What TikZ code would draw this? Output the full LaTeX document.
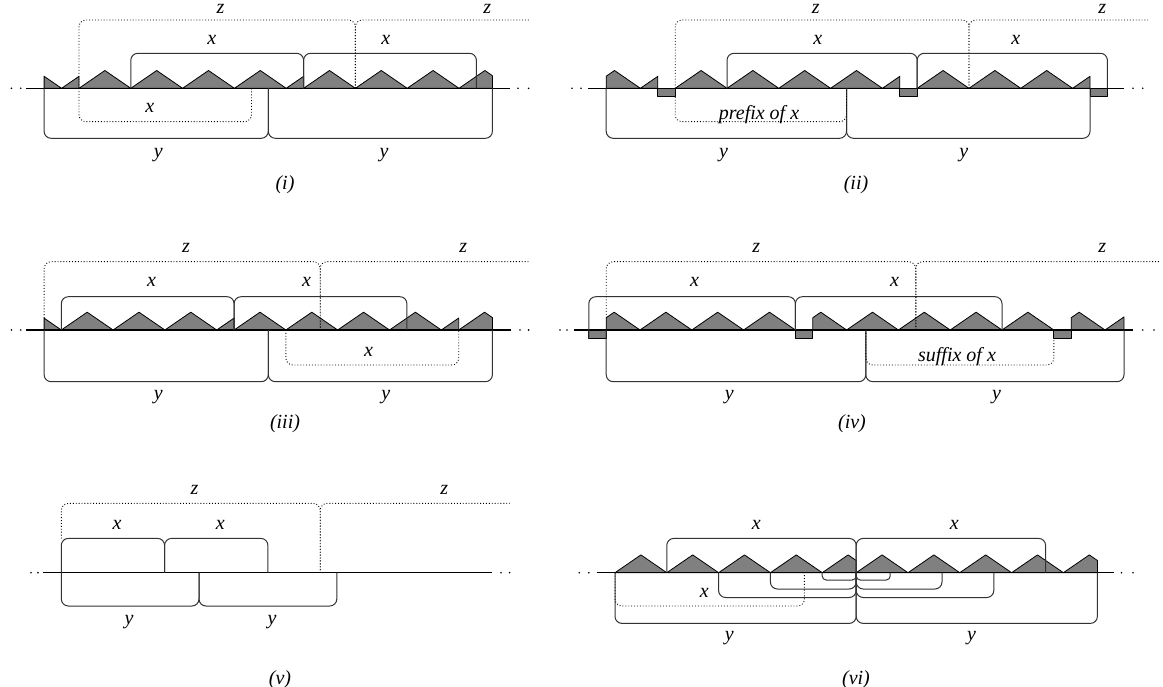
\documentclass[tikz,border=0pt]{standalone}
\usepackage{fontspec}
\setmainfont{Liberation Serif}
\usepackage{tikz}
\newcommand{\sawtooth}[1]{\filldraw[strip] (#1,0) -- ++(25.9,17.8) -- ++(25.9,-17.8) -- cycle;}
\newcommand{\risepart}[2]{\filldraw[strip] (#1,0) -- ++(#2,{0.6873*#2}) -- ++(0,{-0.6873*#2}) -- cycle;}
\newcommand{\axisdots}[1]{\foreach \d in {#1} {\fill (\d,0) circle (0.9);}}

\begin{document}
\begin{tikzpicture}[x=1pt, y=1pt,
  strip/.style={fill=black!50, draw=black, line width=0.8pt, line join=round},
  brk/.style={draw=black!80, line width=1pt, rounded corners=7pt},
  dbrk/.style={draw=black, line width=0.9pt, dotted, rounded corners=7pt},
  axis/.style={line width=1.2pt},
  lbl/.style={font=\fontsize{20}{24}\selectfont\itshape, inner sep=0pt}]

\useasboundingbox (0,0) rectangle (1163,-687);

%% === Panel (i) ===
\begin{scope}[yshift=-88.3pt]
  % string
  \filldraw[strip] (44.1,0) -- (44.1,12) -- (61.6,0) -- cycle;
  \risepart{61.6}{17.4}
  \foreach \a in {79,130.8,182.6,234.4} {\sawtooth{\a}}
  \risepart{286.2}{17.4}
  \foreach \a in {303.6,355.4,407.2} {\sawtooth{\a}}
  \filldraw[strip] (459,0) -- (484.9,17.8) -- (492.4,12.6) -- (492.4,0) -- cycle;
  % axis
  \draw[axis] (25.8,0) -- (509.6,0);
  \axisdots{11.4,20.7,518,528.6}
  % x on top, y below
  \draw[brk] (130.8,0) -- (130.8,35) -- (303.6,35) -- (303.6,0);
  \draw[brk] (303.6,0) -- (303.6,35) -- (476.4,35) -- (476.4,0);
  \draw[brk] (44.1,0) -- (44.1,-50) -- (268.3,-50) -- (268.3,0);
  \draw[brk] (268.3,0) -- (268.3,-50) -- (492.4,-50) -- (492.4,0);
  % z and inner x
  \draw[dbrk] (79,0) -- (79,68.3) -- (355.4,68.3) -- (355.4,0);
  \draw[dbrk] (355.4,0) -- (355.4,68.3) -- (530,68.3);
  \draw[dbrk] (79,0) -- (79,-33.4) -- (251.5,-33.4) -- (251.5,0);
  % labels
  \node[lbl] (iz1) at (220.4,79.3) {z};
  \node[lbl] (iz2) at (487.3,79.3) {z};
  \node[lbl] (ix1) at (211.8,48.3) {x};
  \node[lbl] (ix2) at (385.7,48.3) {x};
  \node[lbl] (ix3) at (149.8,-19.7) {x};
  \node[lbl] (iy1) at (158.4,-66.7) {y};
  \node[lbl] (iy2) at (384,-66.7) {y};
  \node[lbl] (cap1) at (285,-96.7) {(i)};
\end{scope}

%% === Panel (ii) ===
\begin{scope}[yshift=-88.3pt]
  % string
  \filldraw[strip] (606.2,0) -- (606.2,12.1) -- (614.5,17.8) -- (640.4,0) -- cycle;
  \risepart{640.4}{17.4}
  \filldraw[strip] (657.8,0) rectangle (675.2,-8.6);
  \foreach \a in {675.2,727,778.8,830.6} {\sawtooth{\a}}
  \risepart{882.4}{17.4}
  \filldraw[strip] (899.8,0) rectangle (917.2,-8.6);
  \foreach \a in {917.2,969,1020.8} {\sawtooth{\a}}
  \risepart{1072.6}{17.4}
  \filldraw[strip] (1090,0) rectangle (1107.4,-8.6);
  % axis
  \draw[axis] (588,0) -- (1123.5,0);
  \axisdots{572,581,1133,1142.7}
  % x on top, y below
  \draw[brk] (727,0) -- (727,35) -- (917.2,35) -- (917.2,0);
  \draw[brk] (917.2,0) -- (917.2,35) -- (1107.4,35) -- (1107.4,0);
  \draw[brk] (606.2,0) -- (606.2,-50) -- (846.5,-50) -- (846.5,0);
  \draw[brk] (846.5,0) -- (846.5,-50) -- (1090,-50) -- (1090,0);
  % z and prefix
  \draw[dbrk] (675.2,0) -- (675.2,68.3) -- (969,68.3) -- (969,0);
  \draw[dbrk] (969,0) -- (969,68.3) -- (1148,68.3);
  \draw[dbrk] (675.2,-8.6) -- (675.2,-33.4) -- (846.5,-33.4) -- (846.5,0);
  % labels
  \node[lbl] (iiz1) at (815.8,79.3) {z};
  \node[lbl] (iiz2) at (1102.3,79.3) {z};
  \node[lbl] (iix1) at (817.7,48.3) {x};
  \node[lbl] (iix2) at (1015.8,48.3) {x};
  \node[lbl] (iipre) at (759,-26.7) {prefix of x};
  \node[lbl] (iiy1) at (723.5,-66.7) {y};
  \node[lbl] (iiy2) at (963.8,-66.7) {y};
  \node[lbl] (cap2) at (856,-96.7) {(ii)};
\end{scope}

%% === Panel (iii) ===
\begin{scope}[yshift=-330pt]
  % string
  \filldraw[strip] (44.1,0) -- (44.1,11.9) -- (61.3,0) -- cycle;
  \foreach \a in {61.3,113.1,164.9} {\sawtooth{\a}}
  \risepart{216.7}{17.4}
  \foreach \a in {234.1,285.9,337.7,389.5} {\sawtooth{\a}}
  \risepart{441.3}{17.4}
  \filldraw[strip] (458.7,0) -- (484.6,17.8) -- (492.4,12.4) -- (492.4,0) -- cycle;
  % axis
  \draw[axis] (25.8,0) -- (511.4,0);
  \axisdots{11.4,20.7,520,528.6}
  % x on top, y below
  \draw[brk] (61.3,0) -- (61.3,33.3) -- (234.1,33.3) -- (234.1,0);
  \draw[brk] (234.1,0) -- (234.1,33.3) -- (406.9,33.3) -- (406.9,0);
  \draw[brk] (44.1,0) -- (44.1,-51.7) -- (268.3,-51.7) -- (268.3,0);
  \draw[brk] (268.3,0) -- (268.3,-51.7) -- (492.4,-51.7) -- (492.4,0);
  % z and inner x
  \draw[dbrk] (44.1,12) -- (44.1,68.3) -- (320.2,68.3) -- (320.2,0);
  \draw[dbrk] (320.2,0) -- (320.2,68.3) -- (530,68.3);
  \draw[dbrk] (285.9,0) -- (285.9,-35) -- (458.7,-35) -- (458.7,0);
  % labels
  \node[lbl] (iiiz1) at (186,81.7) {z};
  \node[lbl] (iiiz2) at (463.2,81.7) {z};
  \node[lbl] (iiix1) at (151.5,48.3) {x};
  \node[lbl] (iiix2) at (306.5,48.3) {x};
  \node[lbl] (iiix3) at (368.5,-21.7) {x};
  \node[lbl] (iiiy1) at (158.4,-66.7) {y};
  \node[lbl] (iiiy2) at (385.7,-66.7) {y};
  \node[lbl] (cap3) at (285,-93.3) {(iii)};
\end{scope}

%% === Panel (iv) ===
\begin{scope}[yshift=-330pt]
  % string
  \filldraw[strip] (588.8,0) rectangle (606.2,-8.7);
  \filldraw[strip] (606.2,0) -- (606.2,12.3) -- (614.2,17.8) -- (640,0) -- cycle;
  \foreach \a in {640,691.8,743.6} {\sawtooth{\a}}
  \filldraw[strip] (795.4,0) rectangle (812.8,-8.7);
  \filldraw[strip] (812.8,0) -- (812.8,12.3) -- (820.8,17.8) -- (846.6,0) -- cycle;
  \foreach \a in {846.6,898.4,950.2,1002} {\sawtooth{\a}}
  \filldraw[strip] (1053.8,0) rectangle (1071.2,-8.7);
  \filldraw[strip] (1071.2,0) -- (1071.2,12.3) -- (1079.2,17.8) -- (1105,0) -- cycle;
  \risepart{1105}{19}
  % axis
  \draw[axis] (574,0) -- (1133,0);
  \axisdots{560,567,1142.7,1154}
  % x on top, y below
  \draw[brk] (588.8,-8.7) -- (588.8,33.3) -- (795.4,33.3) -- (795.4,0);
  \draw[brk] (795.4,0) -- (795.4,33.3) -- (1002,33.3) -- (1002,0);
  \draw[brk] (606.2,0) -- (606.2,-51.7) -- (865.8,-51.7) -- (865.8,0);
  \draw[brk] (865.8,0) -- (865.8,-51.7) -- (1124,-51.7) -- (1124,0);
  % z and suffix
  \draw[dbrk] (606.2,12.3) -- (606.2,68.3) -- (915.8,68.3) -- (915.8,0);
  \draw[dbrk] (915.8,0) -- (915.8,68.3) -- (1160,68.3);
  \draw[dbrk] (865.8,0) -- (865.8,-35) -- (1053.8,-35) -- (1053.8,-8.7);
  % labels
  \node[lbl] (ivz1) at (756.2,81.7) {z};
  \node[lbl] (ivz2) at (1102.3,81.7) {z};
  \node[lbl] (ivx1) at (694.6,48.3) {x};
  \node[lbl] (ivx2) at (894.6,48.3) {x};
  \node[lbl] (ivsuf) at (957,-26.7) {suffix of x};
  \node[lbl] (ivy1) at (729.2,-66.7) {y};
  \node[lbl] (ivy2) at (996.5,-66.7) {y};
  \node[lbl] (cap4) at (852,-93.3) {(iv)};
\end{scope}

%% === Panel (v) ===
\begin{scope}[yshift=-572.7pt]
  % axis
  \draw[axis] (43,0) -- (492.4,0);
  \axisdots{31,37.9,501,509.6}
  % x on top, y below
  \draw[brk] (61.3,0) -- (61.3,34.3) -- (164.6,34.3) -- (164.6,0);
  \draw[brk] (164.6,0) -- (164.6,34.3) -- (267.9,34.3) -- (267.9,0);
  \draw[brk] (61.3,0) -- (61.3,-33.3) -- (199,-33.3) -- (199,0);
  \draw[brk] (199,0) -- (199,-33.3) -- (336.8,-33.3) -- (336.8,0);
  % z
  \draw[dbrk] (61.3,34.3) -- (61.3,69.3) -- (320.2,69.3) -- (320.2,0);
  \draw[dbrk] (320.2,0) -- (320.2,69.3) -- (509.6,69.3);
  % labels
  \node[lbl] (vz1) at (194.6,82.7) {z};
  \node[lbl] (vz2) at (444.2,82.7) {z};
  \node[lbl] (vx1) at (117.1,47.7) {x};
  \node[lbl] (vx2) at (220.4,47.7) {x};
  \node[lbl] (vy1) at (129.1,-49) {y};
  \node[lbl] (vy2) at (272,-49) {y};
  \node[lbl] (cap5) at (280,-107.3) {(v)};
\end{scope}

%% === Panel (vi) ===
\begin{scope}[yshift=-572.7pt]
  % string
  \foreach \a in {615,666.8,718.6,770.4} {\sawtooth{\a}}
  \filldraw[strip] (822.2,0) -- (848.1,17.8) -- (856.2,12.2) -- (856.2,0) -- cycle;
  \foreach \a in {856.2,908,959.8,1011.6} {\sawtooth{\a}}
  \filldraw[strip] (1063.4,0) -- (1089.3,17.8) -- (1097.4,12.2) -- (1097.4,0) -- cycle;
  % axis
  \draw[axis] (596.5,0) -- (1113.8,0);
  \axisdots{579.2,588.8,1121.5,1133}
  % x on top, y below
  \draw[brk] (666.8,0) -- (666.8,34.3) -- (856.2,34.3) -- (856.2,0);
  \draw[brk] (856.2,0) -- (856.2,34.3) -- (1045.6,34.3) -- (1045.6,0);
  \draw[brk] (615,0) -- (615,-50.7) -- (856.2,-50.7) -- (856.2,0);
  \draw[brk] (856.2,0) -- (856.2,-50.7) -- (1097.4,-50.7) -- (1097.4,0);
  % nested borders
  \draw[brk, rounded corners=4pt] (822.2,0) -- (822.2,-7.3) -- (856.2,-7.3) -- (856.2,0);
  \draw[brk, rounded corners=4pt] (856.2,0) -- (856.2,-7.3) -- (890.2,-7.3) -- (890.2,0);
  \draw[brk] (770.4,0) -- (770.4,-16.3) -- (856.2,-16.3) -- (856.2,0);
  \draw[brk] (856.2,0) -- (856.2,-16.3) -- (942,-16.3) -- (942,0);
  \draw[brk] (718.6,0) -- (718.6,-24.8) -- (856.2,-24.8) -- (856.2,0);
  \draw[brk] (856.2,0) -- (856.2,-24.8) -- (993.8,-24.8) -- (993.8,0);
  \draw[dbrk] (615,0) -- (615,-33.3) -- (804.4,-33.3) -- (804.4,0);
  % labels
  \node[lbl] (vix1) at (756.2,47.7) {x};
  \node[lbl] (vix2) at (954.2,47.7) {x};
  \node[lbl] (vix3) at (704.2,-20.6) {x};
  \node[lbl] (viy1) at (729.2,-65.6) {y};
  \node[lbl] (viy2) at (971.5,-65.6) {y};
  \node[lbl] (cap6) at (856,-107.3) {(vi)};
\end{scope}

\end{tikzpicture}
\end{document}
